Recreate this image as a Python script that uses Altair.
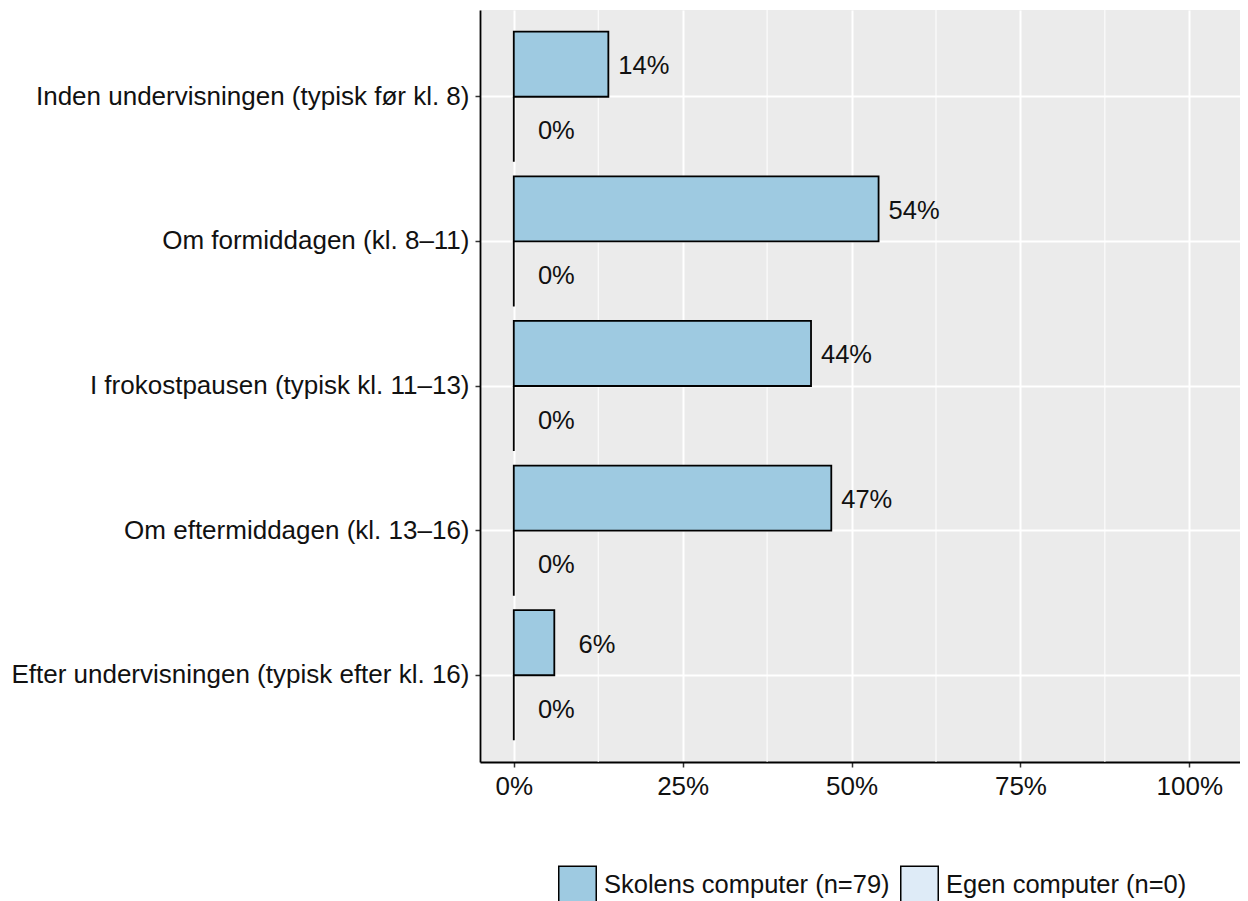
import altair as alt
import pandas as pd

categories = [
    "Inden undervisningen (typisk før kl. 8)",
    "Om formiddagen (kl. 8–11)",
    "I frokostpausen (typisk kl. 11–13)",
    "Om eftermiddagen (kl. 13–16)",
    "Efter undervisningen (typisk efter kl. 16)",
]
series_names = ["Skolens computer (n=79)", "Egen computer (n=0)"]
skolens_values = [14, 54, 44, 47, 6]
egen_values = [0, 0, 0, 0, 0]
series_colors = ["#9ecae1", "#deebf7"]
major_ticks = [0, 25, 50, 75, 100]
minor_ticks = [12.5, 37.5, 62.5, 87.5]

rows = []
for cat, s, e in zip(categories, skolens_values, egen_values):
    rows.append({"category": cat, "group": series_names[0], "value": s, "label": f"{s:.0f}%"})
    rows.append({"category": cat, "group": series_names[1], "value": e, "label": f"{e:.0f}%"})
df = pd.DataFrame(rows)
minor_df = pd.DataFrame({"tick": minor_ticks})

FONT = "Liberation Sans"
FS = 26

x_scale = alt.Scale(domain=[-5, 107.5], nice=False, zero=False)
y_scale = alt.Scale(domain=categories, paddingInner=0.1, paddingOuter=0.15)
yoff_scale = alt.Scale(domain=series_names, paddingInner=0, paddingOuter=0)

minor = alt.Chart(minor_df).mark_rule(color="white", strokeWidth=1).encode(
    x=alt.X("tick:Q", scale=x_scale)
)

bars = alt.Chart(df).mark_bar(stroke="black", strokeWidth=1.8).encode(
    x=alt.X(
        "value:Q",
        scale=x_scale,
        title=None,
        axis=alt.Axis(
            values=major_ticks,
            labelExpr="datum.value + '%'",
            grid=True,
            gridColor="white",
            gridWidth=2,
            domainColor="black",
            domainWidth=1.8,
            tickColor="#333333",
            tickWidth=1.5,
            tickSize=5,
            labelPadding=6,
            labelFontSize=FS,
            labelColor="#111111",
            labelFont=FONT,
        ),
    ),
    x2=alt.datum(0),
    y=alt.Y(
        "category:N",
        scale=y_scale,
        sort=categories,
        title=None,
        axis=alt.Axis(
            grid=True,
            gridColor="white",
            gridWidth=2,
            bandPosition=0.5,
            domainColor="black",
            domainWidth=1.8,
            tickColor="#333333",
            tickWidth=1.5,
            tickSize=5,
            labelPadding=6,
            labelFontSize=FS,
            labelColor="#111111",
            labelFont=FONT,
            labelLimit=1000,
        ),
    ),
    yOffset=alt.YOffset("group:N", scale=yoff_scale, sort=series_names),
    fill=alt.Fill(
        "group:N",
        scale=alt.Scale(domain=series_names, range=series_colors),
        title=None,
        legend=alt.Legend(
            orient="none",
            direction="horizontal",
            legendX=78,
            legendY=855,
            symbolType="square",
            symbolSize=1406,
            symbolStrokeColor="black",
            symbolStrokeWidth=1.5,
            symbolOpacity=1,
            labelFontSize=25.5,
            labelFont=FONT,
            labelColor="#111111",
            labelOffset=7,
            columnPadding=7,
            padding=0,
            labelLimit=1000,
        ),
    ),
)

labels = alt.Chart(df).mark_text(
    align="right", baseline="middle", dx=61, dy=2, fontSize=25.5, font=FONT, color="#111111"
).encode(
    x=alt.X("value:Q", scale=x_scale),
    y=alt.Y("category:N", scale=y_scale, sort=categories),
    yOffset=alt.YOffset("group:N", scale=yoff_scale, sort=series_names),
    text="label:N",
)

chart = (
    alt.layer(minor, bars, labels)
    .properties(
        width=760,
        height=752,
        autosize=alt.AutoSizeParams(type="none"),
        padding={"left": 472, "top": 2, "right": 0, "bottom": 139},
    )
    .configure(font=FONT)
    .configure_view(fill="#ebebeb", strokeWidth=0)
)

chart.save("out.html", embed_options={"renderer": "svg", "actions": False})
